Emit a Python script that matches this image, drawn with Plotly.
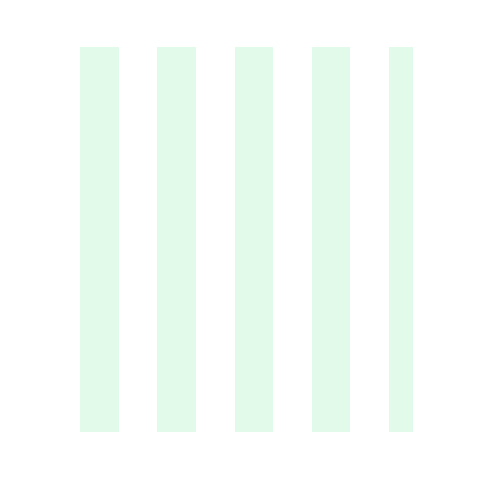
import plotly.graph_objects as go

# Band data (shaded intervals along the x axis)
band_starts = [0, 2, 4, 6, 8]
band_widths = [1, 1, 1, 1, 1]
band_heights = [1, 1, 1, 1, 1]
x_range = [0, 8.62]

fig = go.Figure()

fig.add_trace(go.Bar(x=band_starts, y=band_heights, width=band_widths, offset=0,
                     marker=dict(color='#e1fae9', line=dict(width=0)),
                     hoverinfo='skip', showlegend=False))

fig.update_layout(width=480, height=480,
                  margin=dict(l=72, r=75, t=39, b=56),
                  paper_bgcolor='white', plot_bgcolor='white',
                  bargap=0,
                  xaxis=dict(range=x_range, visible=False, showgrid=False, zeroline=False),
                  yaxis=dict(range=[0, 1], visible=False, showgrid=False, zeroline=False))

fig.write_html("out.html")
